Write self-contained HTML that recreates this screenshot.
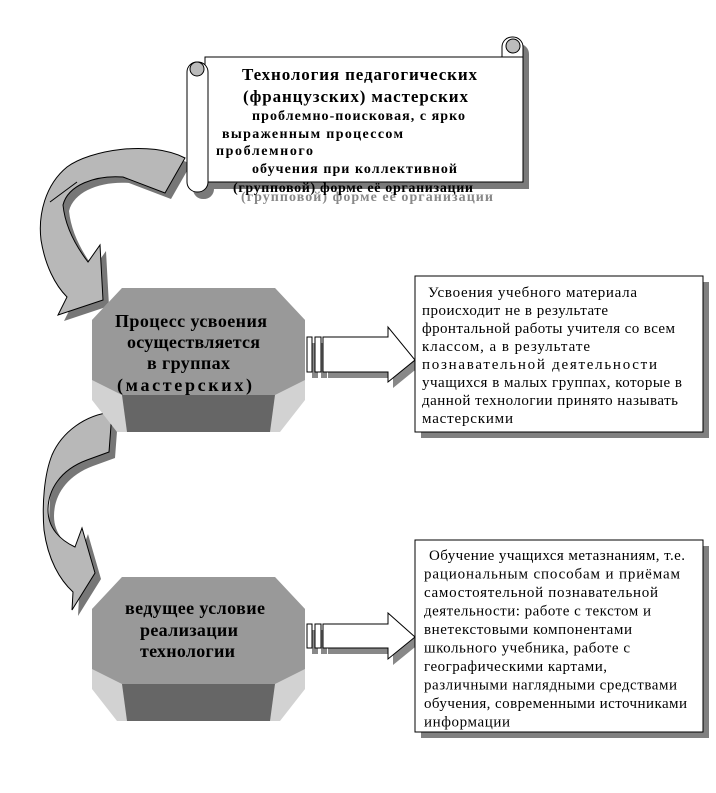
<!DOCTYPE html>
<html><head><meta charset="utf-8"><style>
html,body{margin:0;padding:0;background:#fff;}
svg{display:block;}
text{font-family:"Liberation Serif",serif;fill:#000;}
.b{font-weight:bold;}
</style></head><body>
<svg width="716" height="793" viewBox="0 0 716 793" xmlns="http://www.w3.org/2000/svg">
<path d="M185,158 C150,140 90,150 67,167 C45,185 38,215 41,240 C45,265 55,285 67,297 L58,315 L103,300 L100,245 L88,262 C75,245 65,225 63,205 C68,185 95,175 123,177 L165,193 Z" fill="#777" transform="translate(6,6)"/>
<path d="M185,158 C150,140 90,150 67,167 C45,185 38,215 41,240 C45,265 55,285 67,297 L58,315 L103,300 L100,245 L88,262 C75,245 65,225 63,205 C68,185 95,175 123,177 L165,193 Z" fill="#b8b8b8" stroke="#000" stroke-width="1"/>
<path d="M50,202 L77,182" stroke="#000" fill="none"/>
<path d="M112,412 C85,415 62,432 52,455 C44,475 42,505 44,530 C48,560 60,580 73,592 L72,610 L95,573 L82,528 L75,547 C60,540 48,528 48,510 C48,490 60,470 87,460 L109,452 Z" fill="#777" transform="translate(6,6)"/>
<path d="M112,412 C85,415 62,432 52,455 C44,475 42,505 44,530 C48,560 60,580 73,592 L72,610 L95,573 L82,528 L75,547 C60,540 48,528 48,510 C48,490 60,470 87,460 L109,452 Z" fill="#b8b8b8" stroke="#000" stroke-width="1"/>

<g transform="translate(6,7)" fill="#7a7a7a">
<rect x="205" y="57" width="318" height="125"/>
<rect x="187" y="62" width="21" height="130" rx="10"/>
<rect x="502" y="37" width="21" height="30" rx="10"/>
</g>
<rect x="502" y="37" width="21" height="40" rx="10" fill="#fff" stroke="#000"/>
<rect x="205" y="57" width="318" height="125" fill="#fff" stroke="#000"/>
<rect x="187" y="62" width="21" height="130" rx="10" fill="#fff" stroke="#000"/>
<circle cx="197" cy="69" r="7" fill="#bbb" stroke="#000"/>
<circle cx="513" cy="46" r="7" fill="#bbb" stroke="#000"/>
<rect x="209" y="58" width="290" height="123" fill="#fff"/>
<text class="b" x="242" y="80" font-size="17" textLength="235" lengthAdjust="spacing">Технология педагогических</text>
<text class="b" x="243" y="102" font-size="17" textLength="225" lengthAdjust="spacing">(французских) мастерских</text>
<text class="b" x="252" y="120" font-size="14" textLength="213" lengthAdjust="spacing">проблемно-поисковая, с ярко</text>
<text class="b" x="222" y="138" font-size="14" textLength="181" lengthAdjust="spacing">выраженным процессом</text>
<text class="b" x="216" y="155" font-size="14" textLength="97" lengthAdjust="spacing">проблемного</text>
<text class="b" x="252" y="173" font-size="14" textLength="205" lengthAdjust="spacing">обучения при коллективной</text>
<text class="b" x="241" y="201" font-size="14" style="fill:#888" textLength="252" lengthAdjust="spacing">(групповой) форме её организации</text>
<text class="b" x="233" y="192" font-size="14" textLength="240" lengthAdjust="spacing">(групповой) форме её организации</text>

<polygon points="92,320 122,288 275,288 305,320 305,400 280,432 117,432 92,400" fill="#d2d2d2"/>
<polygon points="92,320 122,288 275,288 305,320 305,380 275,395 122,395 92,380" fill="#999"/>
<polygon points="122,395 275,395 270,432 127,432" fill="#666"/>
<text class="b" x="115" y="327" font-size="18" textLength="152" lengthAdjust="spacing">Процесс усвоения</text>
<text class="b" x="127" y="348" font-size="18" textLength="133" lengthAdjust="spacing">осуществляется</text>
<text class="b" x="147" y="369" font-size="18" textLength="83" lengthAdjust="spacing">в группах</text>
<text class="b" x="117" y="391" font-size="18" textLength="135" lengthAdjust="spacing">(мастерских)</text>
<g transform="translate(0,289)">
<polygon points="92,320 122,288 275,288 305,320 305,400 280,432 117,432 92,400" fill="#d2d2d2"/>
<polygon points="92,320 122,288 275,288 305,320 305,380 275,395 122,395 92,380" fill="#999"/>
<polygon points="122,395 275,395 270,432 127,432" fill="#666"/>
</g>
<text class="b" x="125" y="614" font-size="18" textLength="140" lengthAdjust="spacing">ведущее условие</text>
<text class="b" x="140" y="636" font-size="18" textLength="98" lengthAdjust="spacing">реализации</text>
<text class="b" x="140" y="657" font-size="18" textLength="95" lengthAdjust="spacing">технологии</text>

<g fill="#888" transform="translate(5,6)">
<rect x="307" y="337" width="6" height="35"/><rect x="316" y="337" width="6" height="35"/>
<polygon points="323,337 388,337 388,327 415,360 388,382 388,372 323,372"/>
</g>
<g fill="#fff" stroke="#000">
<rect x="307" y="337" width="5" height="35"/><rect x="315" y="337" width="6" height="35"/>
<polygon points="323,337 388,337 388,327 415,360 388,382 388,372 323,372"/>
</g>
<g fill="#888" transform="translate(5,6)">
<rect x="307" y="624" width="6" height="24"/><rect x="316" y="624" width="6" height="24"/>
<polygon points="323,624 388,624 388,613 415,637 388,659 388,648 323,648"/>
</g>
<g fill="#fff" stroke="#000">
<rect x="307" y="624" width="5" height="24"/><rect x="315" y="624" width="6" height="24"/>
<polygon points="323,624 388,624 388,613 415,637 388,659 388,648 323,648"/>
</g>

<rect x="421" y="282" width="288" height="156" fill="#808080"/>
<rect x="415" y="276" width="288" height="156" fill="#fff" stroke="#000"/>
<g font-size="15">
<text x="428" y="297" textLength="209" lengthAdjust="spacing">Усвоения учебного материала</text>
<text x="422" y="315" textLength="186" lengthAdjust="spacing">происходит не в результате</text>
<text x="422" y="333" textLength="253" lengthAdjust="spacing">фронтальной работы учителя со всем</text>
<text x="422" y="351" textLength="168" lengthAdjust="spacing">классом, а в результате</text>
<text x="422" y="369" textLength="235" lengthAdjust="spacing">познавательной деятельности</text>
<text x="422" y="387" textLength="260" lengthAdjust="spacing">учащихся в малых группах, которые в</text>
<text x="422" y="405" textLength="256" lengthAdjust="spacing">данной технологии принято называть</text>
<text x="422" y="423" textLength="91" lengthAdjust="spacing">мастерскими</text>
</g>
<rect x="421" y="546" width="288" height="192" fill="#808080"/>
<rect x="415" y="540" width="288" height="192" fill="#fff" stroke="#000"/>
<g font-size="15">
<text x="429" y="560" textLength="256" lengthAdjust="spacing">Обучение учащихся метазнаниям, т.е.</text>
<text x="424" y="578.5" textLength="256" lengthAdjust="spacing">рациональным способам и приёмам</text>
<text x="424" y="597" textLength="234" lengthAdjust="spacing">самостоятельной познавательной</text>
<text x="424" y="615.5" textLength="227" lengthAdjust="spacing">деятельности: работе с текстом и</text>
<text x="424" y="634" textLength="208" lengthAdjust="spacing">внетекстовыми компонентами</text>
<text x="424" y="652.5" textLength="206" lengthAdjust="spacing">школьного учебника, работе с</text>
<text x="424" y="671" textLength="183" lengthAdjust="spacing">географическими картами,</text>
<text x="424" y="689.5" textLength="253" lengthAdjust="spacing">различными наглядными средствами</text>
<text x="424" y="708" textLength="263" lengthAdjust="spacing">обучения, современными источниками</text>
<text x="424" y="726.5" textLength="86" lengthAdjust="spacing">информации</text>
</g>
</svg>
</body></html>
